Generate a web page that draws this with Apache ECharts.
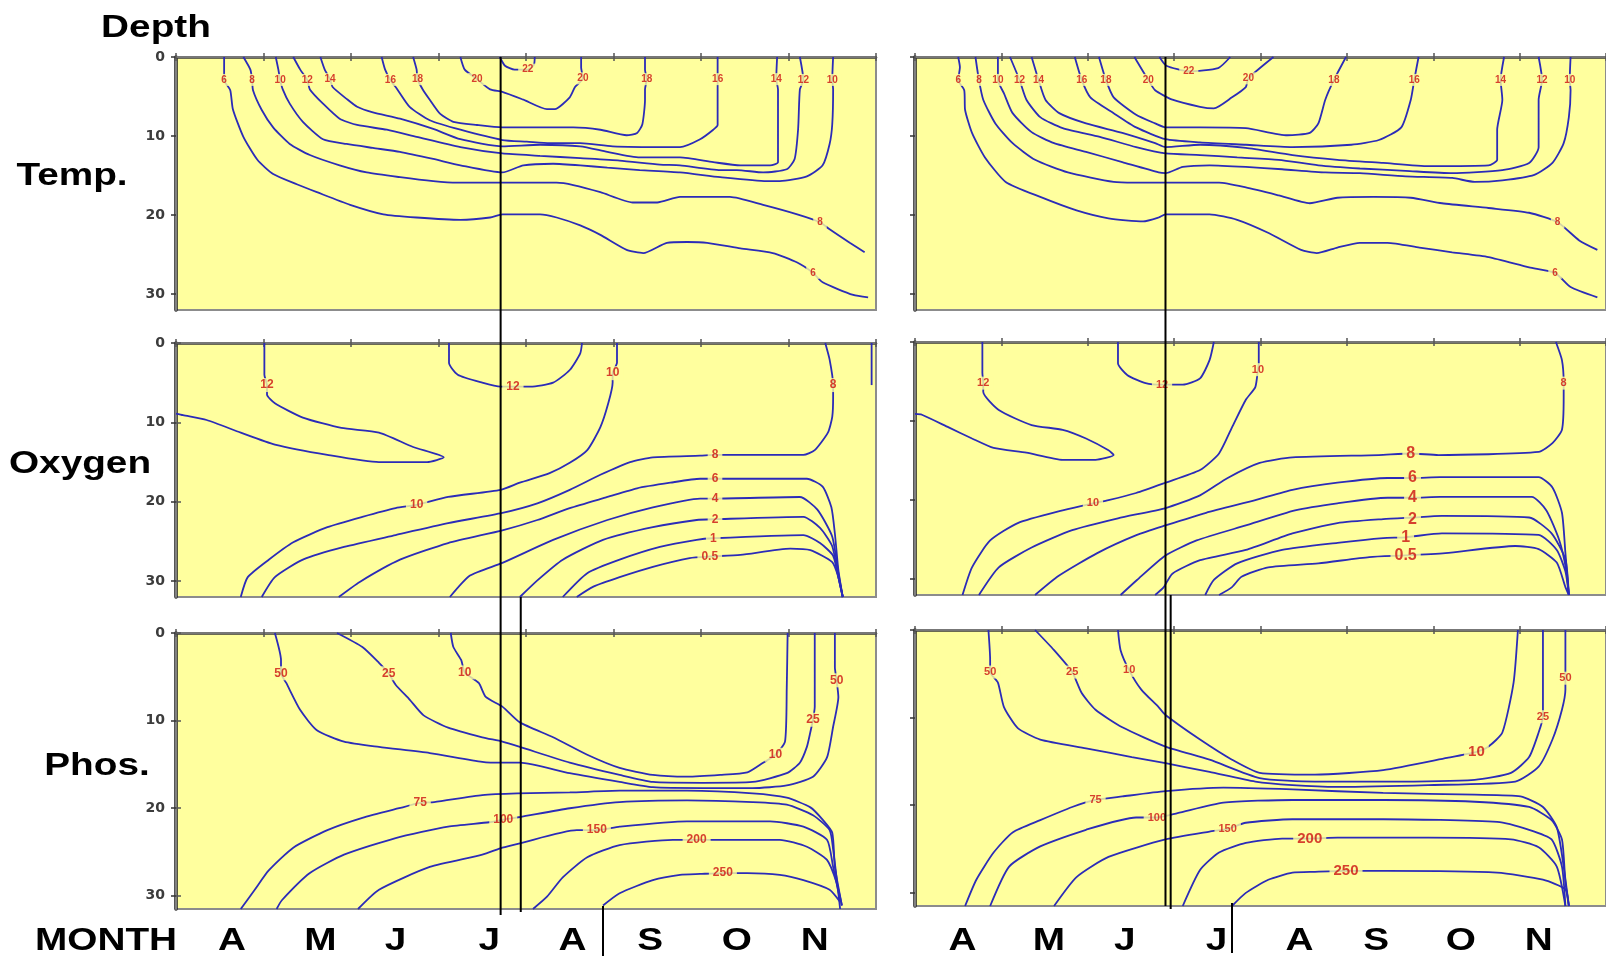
<!DOCTYPE html>
<html>
<head>
<meta charset="utf-8">
<title>Depth sections: temperature, oxygen, phosphate</title>
<script src="https://cdn.jsdelivr.net/npm/echarts@6/dist/echarts.min.js"></script>
<style>
  html, body { margin: 0; padding: 0; background: #ffffff; }
  #chart { width: 1606px; height: 963px; }
</style>
</head>
<body>
<div id="chart"></div>
<script>
// Month axis: 0 = start of April, 8 = end of November. Depth in metres.
const monthsLeft = ['A', 'M', 'J', 'J', 'A', 'S', 'O', 'N'];
const monthsRight = ['A', 'M', 'J', 'J', 'A', 'S', 'O', 'N'];
const monthAtLeft = [0.64, 1.65, 2.51, 3.58, 4.53, 5.42, 6.41, 7.30];
const monthAtRight = [0.55, 1.55, 2.43, 3.49, 4.45, 5.34, 6.32, 7.22];
const depthTicks = [0, 10, 20, 30];

// Sampling dates marked as vertical rules (month units)
const rulesLeft = [3.71, 3.94, 4.88];
const rulesRight = [2.90, 2.96, 3.67];

// Temperature isotherms (deg C), first season
const tempLeft = [
  {level: 6, pts: [[0.55,0],[0.55,1.3],[0.55,2.9],[0.62,4.2],[0.65,6.6],[0.77,10.1],[0.93,13.0],[1.11,14.8],[1.38,16.1],[1.61,17.1],[1.99,18.7],[2.37,19.9],[2.75,20.3],[3.25,20.6],[3.59,20.3],[3.73,19.9],[4.16,19.9],[4.35,20.3],[4.62,21.3],[4.85,22.5],[5.15,24.4],[5.34,24.8],[5.61,23.5],[5.84,23.4],[6.07,23.5],[6.45,24.2],[6.82,24.8],[7.10,26.0],[7.28,27.3],[7.39,28.5],[7.74,30.1],[7.91,30.4]]},
  {level: 8, pts: [[0.77,0],[0.85,1.6],[0.87,2.9],[0.88,4.2],[0.98,6.7],[1.11,8.9],[1.30,11.0],[1.53,12.4],[1.87,13.7],[2.18,14.6],[2.56,15.2],[2.94,15.7],[3.21,15.9],[3.73,15.9],[4.35,15.9],[4.54,16.2],[4.85,17.1],[5.22,18.4],[5.50,18.4],[5.76,17.7],[6.33,17.7],[6.71,18.7],[7.10,19.9],[7.36,20.9],[7.47,21.8],[7.70,23.5],[7.87,24.7]]},
  {level: 10, pts: [[1.14,0],[1.17,1.6],[1.19,2.9],[1.22,4.1],[1.30,5.9],[1.45,8.2],[1.68,10.4],[1.95,11.0],[2.25,11.5],[2.56,12.0],[2.94,12.9],[3.25,13.7],[3.73,14.6],[3.97,13.7],[4.31,13.5],[4.62,13.7],[4.93,14.0],[5.30,14.3],[5.76,14.6],[6.22,15.2],[6.75,15.7],[6.90,15.7],[7.21,15.1],[7.39,13.7],[7.47,11.0],[7.50,8.5],[7.51,4.1],[7.50,2.9],[7.51,0]]},
  {level: 12, pts: [[1.34,0],[1.42,1.6],[1.50,2.9],[1.53,4.1],[1.68,5.9],[1.87,7.8],[2.07,8.6],[2.41,9.2],[2.75,10.1],[3.25,11.4],[3.73,12.2],[4.16,12.5],[4.62,12.8],[5.07,13.1],[5.53,13.6],[5.76,13.7],[6.22,14.3],[6.41,14.3],[6.71,14.6],[6.98,14.2],[7.07,12.9],[7.11,9.1],[7.13,4.1],[7.17,2.9],[7.13,0]]},
  {level: 14, pts: [[1.65,0],[1.70,1.6],[1.76,2.8],[1.79,3.8],[1.95,5.3],[2.07,6.3],[2.25,7.0],[2.56,7.8],[2.94,9.1],[3.25,10.4],[3.73,11.3],[4.16,11.1],[4.62,11.3],[4.93,12.0],[5.30,12.7],[5.76,12.7],[6.14,13.3],[6.45,13.7],[6.79,13.7],[6.88,13.3],[6.88,4.1],[6.86,2.8],[6.87,0]]},
  {level: 16, pts: [[2.35,0],[2.39,1.6],[2.45,2.9],[2.53,4.1],[2.67,6.3],[2.90,8.0],[3.25,9.2],[3.73,10.5],[4.01,10.7],[4.27,10.9],[4.62,10.9],[4.99,11.3],[5.61,11.4],[5.76,11.4],[5.99,10.4],[6.14,9.2],[6.19,8.6],[6.19,4.1],[6.19,2.8],[6.19,0]]},
  {level: 18, pts: [[2.71,0],[2.75,1.6],[2.76,2.8],[2.82,4.1],[2.90,5.4],[3.02,7.2],[3.17,8.2],[3.44,8.6],[3.73,8.9],[4.54,8.9],[4.85,9.2],[5.15,9.9],[5.27,9.6],[5.33,8.5],[5.36,5.4],[5.36,4.1],[5.38,2.8],[5.36,1.6],[5.36,0]]},
  {level: 20, pts: [[3.25,0],[3.30,1.6],[3.44,2.8],[3.59,4.1],[3.73,4.4],[3.97,5.4],[4.24,6.6],[4.33,6.6],[4.50,5.1],[4.56,3.8],[4.65,2.7],[4.63,1.3],[4.63,0]]},
  {level: 22, pts: [[3.70,0],[3.76,1.1],[3.87,1.6],[4.02,1.6],[4.09,1.0],[4.10,0]]}
];
const tempLeftLabels = [[0.55,2.9,'6'],[0.87,2.9,'8'],[1.19,2.9,'10'],[1.50,2.9,'12'],[1.76,2.8,'14'],[2.45,2.9,'16'],[2.76,2.8,'18'],[3.44,2.8,'20'],[4.02,1.6,'22'],[4.65,2.7,'20'],[5.38,2.8,'18'],[6.19,2.8,'16'],[6.86,2.8,'14'],[7.17,2.9,'12'],[7.50,2.9,'10'],[7.36,20.9,'8'],[7.28,27.3,'6']];

// Temperature isotherms (deg C), second season
const tempRight = [
  {level: 6, pts: [[0.50,0],[0.52,1.3],[0.50,2.9],[0.57,4.2],[0.58,6.7],[0.66,9.6],[0.81,12.7],[1.05,15.8],[1.45,17.7],[1.87,19.4],[2.24,20.4],[2.64,20.8],[2.82,20.3],[2.90,19.9],[3.41,19.9],[3.73,20.6],[4.10,22.3],[4.47,24.4],[4.65,24.8],[4.89,24.1],[5.15,23.5],[5.47,23.5],[5.84,24.1],[6.22,24.7],[6.64,25.3],[7.11,26.6],[7.41,27.3],[7.59,29.1],[7.90,30.4]]},
  {level: 8, pts: [[0.70,0],[0.74,2.9],[0.79,5.4],[0.93,8.4],[1.13,10.9],[1.39,13.0],[1.77,14.6],[2.30,15.8],[2.54,15.9],[3.04,15.9],[3.52,15.9],[3.83,16.5],[4.21,17.5],[4.57,18.5],[4.89,17.8],[5.31,17.7],[5.74,17.8],[6.10,18.5],[6.64,19.1],[7.11,19.7],[7.44,20.9],[7.69,23.2],[7.90,24.4]]},
  {level: 10, pts: [[0.96,0],[0.96,2.9],[1.03,4.6],[1.13,7.1],[1.35,9.5],[1.61,10.9],[1.98,12.0],[2.40,13.3],[2.82,14.6],[2.90,14.7],[3.10,13.9],[3.41,13.7],[3.83,13.9],[4.25,14.2],[4.75,14.6],[5.15,14.7],[5.68,15.1],[6.22,15.3],[6.48,15.8],[6.80,15.6],[7.17,14.9],[7.38,13.4],[7.51,10.9],[7.57,7.6],[7.59,4.2],[7.58,2.9],[7.59,0]]},
  {level: 12, pts: [[1.10,0],[1.21,2.9],[1.29,5.4],[1.45,7.6],[1.71,9.0],[2.14,10.1],[2.56,11.4],[2.90,12.2],[3.30,12.4],[3.73,12.7],[4.21,13.0],[4.67,13.7],[5.15,14.1],[5.68,14.4],[6.22,14.7],[6.80,14.3],[7.11,13.4],[7.22,11.4],[7.22,5.4],[7.26,2.9],[7.22,0]]},
  {level: 14, pts: [[1.35,0],[1.43,2.9],[1.51,5.4],[1.67,7.1],[1.98,8.4],[2.40,9.6],[2.78,10.9],[2.90,11.4],[3.30,11.1],[3.83,11.5],[4.37,12.4],[4.89,13.0],[5.42,13.4],[5.95,13.8],[6.64,13.7],[6.74,13.0],[6.74,9.2],[6.80,5.4],[6.78,2.9],[6.82,0]]},
  {level: 16, pts: [[1.85,0],[1.93,2.9],[2.03,5.1],[2.30,7.1],[2.56,8.9],[2.90,10.4],[3.30,10.8],[3.83,11.1],[4.37,11.4],[5.05,11.1],[5.37,10.5],[5.63,8.9],[5.74,5.4],[5.78,2.9],[5.83,0]]},
  {level: 18, pts: [[2.13,0],[2.21,2.9],[2.30,5.1],[2.56,7.3],[2.78,8.4],[2.90,8.9],[3.30,8.9],[3.83,9.0],[4.31,9.9],[4.57,9.6],[4.67,8.4],[4.75,5.4],[4.85,2.9],[4.99,0]]},
  {level: 20, pts: [[2.54,0],[2.70,2.9],[2.78,4.2],[2.98,5.4],[3.30,6.3],[3.46,6.5],[3.67,5.1],[3.83,3.8],[3.86,2.7],[4.15,0]]},
  {level: 22, pts: [[2.83,0],[2.91,1.1],[3.17,1.8],[3.51,1.4],[3.65,0]]}
];
const tempRightLabels = [[0.50,2.9,'6'],[0.74,2.9,'8'],[0.96,2.9,'10'],[1.21,2.9,'12'],[1.43,2.9,'14'],[1.93,2.9,'16'],[2.21,2.9,'18'],[2.70,2.9,'20'],[3.17,1.8,'22'],[3.86,2.7,'20'],[4.85,2.9,'18'],[5.78,2.9,'16'],[6.78,2.9,'14'],[7.26,2.9,'12'],[7.58,2.9,'10'],[7.44,20.9,'8'],[7.41,27.3,'6']];

// Dissolved oxygen isopleths (mg/L), first season
const oxyLeft = [
  {level: 12, pts: [[1.01,0],[1.01,4.0],[1.04,5.3],[1.04,6.5],[1.13,7.6],[1.45,9.4],[1.89,10.7],[2.32,11.3],[2.71,13.1],[3.06,14.4],[2.87,15.0],[2.32,15.0],[1.73,14.1],[1.13,12.8],[0.74,11.3],[0.35,9.7],[0.08,9.1],[0,8.9]]},
  {level: 12, pts: [[3.12,0],[3.12,2.5],[3.22,4.0],[3.50,5.0],[3.71,5.5],[3.85,5.5],[4.05,5.5],[4.31,5.0],[4.50,3.4],[4.62,1.3],[4.64,0]]},
  {level: 10, pts: [[0.74,32],[0.82,29.5],[1.06,27.3],[1.34,25.1],[1.73,23.2],[2.13,21.9],[2.51,20.8],[2.75,20.4],[3.11,19.4],[3.71,18.5],[3.93,17.6],[4.27,16.4],[4.50,15.1],[4.70,13.5],[4.85,10.6],[4.94,7.6],[4.99,5.0],[4.99,3.8],[5.04,2.5],[5.04,0]]},
  {level: 8, pts: [[0.98,32],[1.13,29.5],[1.45,27.3],[1.92,25.7],[2.51,24.2],[3.11,22.7],[3.73,21.4],[4.13,20.2],[4.50,18.5],[4.85,16.6],[5.19,15.0],[5.45,14.4],[5.99,14.2],[6.16,14.1],[7.17,14.1],[7.30,13.5],[7.45,11.3],[7.50,9.3],[7.51,6.8],[7.51,5.3],[7.47,2.1],[7.42,0]]},
  {level: 8, pts: [[7.95,0],[7.95,5.3]]},
  {level: 6, pts: [[1.86,32],[2.10,30.1],[2.56,27.3],[3.11,25.2],[3.73,23.6],[4.13,22.3],[4.50,20.8],[4.93,19.4],[5.27,18.3],[5.65,17.6],[5.99,17.1],[6.16,17.1],[7.21,17.1],[7.39,18.1],[7.49,20.7],[7.53,24.0],[7.57,28.6],[7.62,32]]},
  {level: 4, pts: [[3.13,32],[3.36,29.3],[3.73,27.7],[4.31,24.8],[4.93,22.3],[5.45,20.7],[5.99,19.6],[6.16,19.6],[7.13,19.4],[7.33,21.0],[7.50,24.4],[7.57,29.0],[7.62,32]]},
  {level: 2, pts: [[3.93,32],[4.13,29.9],[4.42,27.3],[4.88,24.8],[5.45,23.2],[5.95,22.3],[6.16,22.2],[7.17,21.9],[7.36,23.3],[7.50,25.6],[7.57,29.5],[7.62,32]]},
  {level: 1, pts: [[4.42,32],[4.70,29.0],[5.07,27.3],[5.53,25.7],[5.95,24.8],[6.14,24.6],[7.17,24.2],[7.36,25.2],[7.51,26.8],[7.58,30.0],[7.62,32]]},
  {level: 0.5, pts: [[4.58,32],[4.77,30.7],[5.07,29.5],[5.45,28.2],[5.87,27.1],[6.10,26.9],[6.45,26.7],[7.02,25.9],[7.25,26.1],[7.50,27.6],[7.57,29.5],[7.62,32]]}
];
const oxyLeftLabels = [[1.04,5.3,'12'],[3.85,5.5,'12'],[4.99,3.8,'10'],[7.51,5.3,'8'],[2.75,20.4,'10'],[6.16,14.1,'8'],[6.16,17.1,'6'],[6.16,19.6,'4'],[6.16,22.2,'2'],[6.14,24.6,'1'],[6.10,26.9,'0.5']];

// Dissolved oxygen isopleths (mg/L), second season
const oxyRight = [
  {level: 12, pts: [[0.78,0],[0.78,3.9],[0.79,5.2],[0.79,6.3],[0.97,8.6],[1.35,10.5],[1.71,11.1],[1.98,12.2],[2.24,13.7],[2.30,14.3],[2.09,14.9],[1.71,14.9],[1.29,14.0],[0.91,13.4],[0.66,12.2],[0.39,10.8],[0.08,9.2],[0,9.1]]},
  {level: 12, pts: [[2.35,0],[2.35,2.7],[2.46,4.2],[2.67,5.2],[2.86,5.4],[3.10,5.4],[3.30,4.6],[3.41,2.3],[3.46,0]]},
  {level: 10, pts: [[0.55,32],[0.66,28.5],[0.87,25.1],[1.19,22.9],[1.71,21.3],[2.06,20.4],[2.24,20.0],[2.56,19.1],[2.90,17.8],[3.30,16.2],[3.52,14.1],[3.67,10.8],[3.83,7.3],[3.94,5.7],[3.97,3.5],[3.98,2.7],[3.98,0]]},
  {level: 8, pts: [[0.74,32],[0.97,28.5],[1.35,26.0],[1.82,23.8],[2.35,22.3],[2.90,21.0],[3.30,19.4],[3.62,17.2],[3.99,15.3],[4.37,14.6],[5.37,14.3],[5.74,14.1],[6.06,14.3],[7.22,13.9],[7.38,12.8],[7.49,11.1],[7.51,7.0],[7.51,5.2],[7.49,2.3],[7.42,0]]},
  {level: 6, pts: [[1.39,32],[1.66,29.6],[2.11,26.7],[2.57,24.4],[2.90,23.2],[3.37,21.6],[3.94,20.0],[4.37,18.7],[4.89,17.8],[5.47,17.2],[5.76,17.2],[6.08,17.1],[7.22,17.1],[7.38,18.4],[7.49,21.6],[7.53,26.7],[7.57,32]]},
  {level: 4, pts: [[2.38,32],[2.57,30.1],[2.90,27.0],[3.26,25.1],[3.83,23.2],[4.40,21.3],[4.89,20.4],[5.47,19.7],[5.76,19.7],[6.08,19.6],[7.14,19.6],[7.31,21.3],[7.46,25.1],[7.54,28.9],[7.57,32]]},
  {level: 2, pts: [[2.78,32],[2.88,31.0],[2.98,29.3],[3.30,27.6],[3.83,26.3],[4.37,24.2],[4.89,22.9],[5.42,22.4],[5.76,22.2],[6.10,22.0],[7.11,22.2],[7.37,24.2],[7.53,27.5],[7.57,32]]},
  {level: 1, pts: [[3.36,32],[3.46,30.1],[3.73,28.0],[4.25,26.3],[4.89,25.4],[5.42,24.8],[5.68,24.7],[6.10,24.2],[7.22,24.4],[7.43,26.3],[7.53,29.0],[7.57,32]]},
  {level: 0.5, pts: [[3.52,32],[3.67,31.0],[3.78,29.7],[4.09,28.5],[4.67,28.0],[5.26,27.2],[5.68,27.0],[6.14,26.7],[6.95,25.8],[7.22,26.2],[7.43,27.9],[7.53,31.0],[7.57,32]]}
];
const oxyRightLabels = [[0.79,5.2,'12'],[2.86,5.4,'12'],[3.97,3.5,'10'],[7.51,5.2,'8'],[2.06,20.4,'10']];
const oxyRightBig = [[5.74,14.1,'8'],[5.76,17.2,'6'],[5.76,19.7,'4'],[5.76,22.4,'2'],[5.68,24.7,'1'],[5.68,27.0,'0.5']];

// Phosphate isopleths (ug/L), first season
const phosLeft = [
  {level: 50, pts: [[1.13,0],[1.20,3.1],[1.20,4.6],[1.26,5.7],[1.42,8.8],[1.61,11.1],[1.92,12.4],[2.32,13.0],[2.90,13.7],[3.50,14.7],[3.73,14.8],[3.93,14.8],[4.50,16.0],[5.07,17.0],[5.45,17.6],[6.02,17.7],[6.59,17.7],[6.98,17.4],[7.28,16.4],[7.44,14.2],[7.51,10.7],[7.57,7.3],[7.55,5.4],[7.53,3.9],[7.53,0]]},
  {level: 25, pts: [[1.84,0],[2.13,1.6],[2.32,3.4],[2.43,4.6],[2.51,5.9],[2.67,7.6],[2.83,9.4],[3.11,10.8],[3.50,11.9],[3.73,12.4],[3.93,13.0],[4.50,14.8],[5.07,16.2],[5.45,17.0],[6.02,17.1],[6.59,17.0],[6.98,16.0],[7.13,14.8],[7.21,13.0],[7.25,11.3],[7.28,9.9],[7.30,8.4],[7.30,0]]},
  {level: 10, pts: [[3.14,0],[3.17,1.6],[3.26,3.1],[3.30,4.5],[3.46,5.7],[3.54,7.3],[3.73,8.4],[3.93,10.2],[4.31,11.9],[4.70,13.9],[5.07,15.4],[5.45,16.2],[5.84,16.4],[6.22,16.2],[6.53,15.9],[6.71,14.8],[6.85,13.9],[6.96,12.4],[6.98,6.3],[6.99,0]]},
  {level: 75, pts: [[0.74,31.5],[0.90,29.3],[1.06,27.1],[1.34,24.5],[1.73,22.5],[2.13,21.1],[2.55,20.0],[2.79,19.4],[2.95,19.3],[3.50,18.5],[3.90,18.3],[4.50,18.2],[5.07,18.0],[5.84,18.0],[6.59,18.3],[6.98,18.8],[7.25,19.9],[7.39,21.3],[7.50,22.8],[7.53,26.7],[7.61,31.1]]},
  {level: 100, pts: [[1.15,31.5],[1.21,30.5],[1.53,27.4],[1.92,25.3],[2.51,23.4],[3.11,22.1],[3.58,21.6],[3.74,21.3],[3.93,21.0],[4.50,20.0],[5.07,19.3],[5.84,19.1],[6.59,19.3],[6.98,19.6],[7.28,20.8],[7.47,22.5],[7.51,24.7],[7.57,29.7],[7.59,31.5]]},
  {level: 150, pts: [[2.08,31.5],[2.32,29.3],[2.90,26.7],[3.50,25.3],[3.73,24.5],[3.93,24.0],[4.58,22.5],[4.81,22.5],[5.07,22.1],[5.84,21.5],[6.79,21.5],[7.17,22.1],[7.44,23.6],[7.51,26.7],[7.59,30.5]]},
  {level: 200, pts: [[4.08,31.5],[4.24,30.1],[4.42,27.9],[4.70,25.6],[5.07,24.2],[5.68,23.6],[5.95,23.6],[6.18,23.6],[6.90,23.6],[7.21,24.4],[7.44,25.9],[7.55,28.5],[7.61,31.1]]},
  {level: 250, pts: [[4.88,31.1],[5.07,29.7],[5.45,28.2],[5.76,27.6],[5.99,27.5],[6.25,27.4],[6.53,27.4],[6.90,27.6],[7.17,28.2],[7.47,29.3],[7.59,30.7]]}
];
const phosLeftLabels = [[1.20,4.6,'50'],[2.43,4.6,'25'],[3.30,4.5,'10'],[2.79,19.4,'75'],[3.74,21.3,'100'],[4.81,22.5,'150'],[5.95,23.6,'200'],[6.25,27.4,'250'],[6.85,13.9,'10'],[7.28,9.9,'25'],[7.55,5.4,'50']];

// Phosphate isopleths (ug/L), second season
const phosRight = [
  {level: 50, pts: [[0.85,0],[0.87,3.4],[0.87,4.8],[0.96,6.0],[1.03,8.8],[1.19,11.2],[1.45,12.5],[1.98,13.5],[2.51,14.5],[2.90,15.2],[3.41,16.2],[3.94,17.3],[4.37,17.7],[4.89,17.9],[5.94,17.7],[6.95,17.3],[7.22,15.6],[7.38,12.5],[7.49,9.1],[7.53,6.8],[7.53,5.5],[7.53,0]]},
  {level: 25, pts: [[1.39,0],[1.61,2.3],[1.82,4.8],[1.93,7.2],[2.09,9.1],[2.40,11.1],[2.90,13.3],[3.41,14.8],[3.99,16.9],[4.63,17.3],[5.42,17.3],[6.48,17.1],[6.90,16.3],[7.11,14.5],[7.22,11.7],[7.27,9.9],[7.27,0]]},
  {level: 10, pts: [[2.35,0],[2.38,2.3],[2.48,4.6],[2.62,6.8],[2.82,8.8],[2.90,9.7],[3.30,12.5],[3.67,14.8],[3.99,16.3],[4.63,16.5],[5.42,16.0],[6.16,14.6],[6.50,13.9],[6.64,13.3],[6.80,11.7],[6.93,6.0],[6.98,0]]},
  {level: 75, pts: [[0.58,31.5],[0.71,28.5],[0.91,25.4],[1.13,23.1],[1.45,21.7],[1.82,20.2],[2.09,19.4],[2.40,19.0],[2.90,18.4],[3.57,18.0],[4.37,18.2],[5.42,18.6],[6.48,18.8],[7.01,19.0],[7.27,20.2],[7.43,22.5],[7.51,27.0],[7.57,31.5]]},
  {level: 100, pts: [[0.87,31.5],[1.09,27.0],[1.45,24.7],[1.98,22.8],[2.56,21.4],[2.80,21.4],[3.04,20.9],[3.57,19.7],[4.37,19.4],[5.42,19.4],[6.48,19.6],[7.11,20.2],[7.37,21.7],[7.49,23.9],[7.53,28.8],[7.57,31.5]]},
  {level: 150, pts: [[1.61,31.5],[1.87,28.2],[2.24,25.9],[2.90,23.9],[3.41,23.0],[3.62,22.7],[3.83,22.0],[4.37,21.6],[5.42,21.6],[6.74,21.9],[7.11,22.8],[7.37,23.9],[7.49,27.0],[7.53,31.5]]},
  {level: 200, pts: [[3.10,31.5],[3.30,27.4],[3.52,25.4],[3.83,24.3],[4.25,23.8],[4.57,23.8],[4.89,23.7],[5.94,23.7],[6.90,23.9],[7.22,24.8],[7.43,27.0],[7.53,31.5]]},
  {level: 250, pts: [[3.67,31.5],[3.83,30.0],[4.09,28.5],[4.37,27.7],[4.63,27.6],[4.99,27.5],[5.47,27.5],[6.74,27.7],[7.27,28.5],[7.53,29.6],[7.57,31.5]]}
];
const phosRightLabels = [[0.87,4.8,'50'],[1.82,4.8,'25'],[2.48,4.6,'10'],[2.09,19.4,'75'],[2.80,21.4,'100'],[3.62,22.7,'150'],[7.27,9.9,'25'],[7.53,5.5,'50']];
const phosRightBig = [[4.57,23.8,'200'],[4.99,27.5,'250'],[6.50,13.9,'10']];

// ---- styling ----
const LINE_COLOR = '#2b2bb8';
const LABEL_COLOR = '#cc1010';
const PANEL_BG = '#ffff9e';
const FONT = '"Liberation Sans", Arial, sans-serif';

const panels = [
  {lines: tempLeft,  labels: tempLeftLabels,  big: [],           left: 176, top: 57,  height: 253, max: 32,   size: 10, bigSize: 10, yLabels: true,  rightTicks: false},
  {lines: oxyLeft,   labels: oxyLeftLabels,   big: [],           left: 176, top: 343, height: 254, max: 32,   size: 12, bigSize: 12, yLabels: true,  rightTicks: true},
  {lines: phosLeft,  labels: phosLeftLabels,  big: [],           left: 176, top: 633, height: 276, max: 31.5, size: 12, bigSize: 12, yLabels: true,  rightTicks: true},
  {lines: tempRight, labels: tempRightLabels, big: [],           left: 915, top: 57,  height: 253, max: 32,   size: 10, bigSize: 10, yLabels: false, rightTicks: false},
  {lines: oxyRight,  labels: oxyRightLabels,  big: oxyRightBig,  left: 915, top: 342, height: 253, max: 32,   size: 11, bigSize: 16, yLabels: false, rightTicks: false},
  {lines: phosRight, labels: phosRightLabels, big: phosRightBig, left: 915, top: 630, height: 276, max: 31.5, size: 11, bigSize: 15, yLabels: false, rightTicks: false}
];

const grids = [], xAxes = [], yAxes = [], series = [];

function labelSeries(i, items, size) {
  return {
    type: 'scatter', xAxisIndex: 2 * i, yAxisIndex: 2 * i, silent: true, z: 6,
    symbol: 'rect', symbolSize: 1, itemStyle: {color: 'rgba(0,0,0,0)'},
    data: items.map(l => ({value: [l[0], l[1]], name: l[2]})),
    label: {
      show: true, position: 'inside', formatter: '{b}',
      color: LABEL_COLOR, fontSize: size, fontWeight: 'bold', fontFamily: FONT,
      backgroundColor: PANEL_BG, padding: [1, 4]
    }
  };
}

panels.forEach((p, i) => {
  grids.push({
    left: p.left, top: p.top, width: 700, height: p.height,
    show: true, backgroundColor: PANEL_BG, borderColor: '#8c8c8c', borderWidth: 2
  });
  const xBase = {
    type: 'value', gridIndex: i, min: 0, max: 8, interval: 1,
    axisLabel: {show: false}, splitLine: {show: false},
    axisTick: {show: true, inside: false, length: 4, lineStyle: {color: '#555', width: 1.5}}
  };
  xAxes.push(Object.assign({}, xBase, {position: 'bottom', axisLine: {show: true, lineStyle: {color: '#3a3a3a', width: 2.5}}}));
  xAxes.push(Object.assign({}, xBase, {position: 'top', axisLine: {show: true, lineStyle: {color: '#777', width: 2}}}));
  yAxes.push({
    type: 'value', gridIndex: i, inverse: true, min: 0, max: p.max, interval: 10, position: 'left',
    splitLine: {show: false},
    axisLine: {show: true, lineStyle: {color: '#1c1c1c', width: 3.5}},
    axisTick: {show: true, length: 5, customValues: depthTicks, lineStyle: {color: '#333', width: 1.5}},
    axisLabel: {show: p.yLabels, customValues: depthTicks, margin: 11, fontSize: 14, fontWeight: 'bold', color: '#3c3c3c', fontFamily: '"DejaVu Sans", sans-serif'}
  });
  yAxes.push({
    type: 'value', gridIndex: i, inverse: true, min: 0, max: p.max, interval: 10, position: 'right',
    splitLine: {show: false},
    axisLine: {show: true, lineStyle: {color: '#808080', width: 2}},
    axisTick: {show: p.rightTicks, length: 5, customValues: depthTicks, lineStyle: {color: '#555', width: 1.5}},
    axisLabel: {show: false}
  });
  p.lines.forEach(c => {
    series.push({
      type: 'line', name: String(c.level), xAxisIndex: 2 * i, yAxisIndex: 2 * i,
      data: c.pts, showSymbol: false, smooth: 0.2, silent: true, z: 3,
      lineStyle: {color: LINE_COLOR, width: 1.8}
    });
  });
  series.push(labelSeries(i, p.labels, p.size));
  if (p.big.length) series.push(labelSeries(i, p.big, p.bigSize));
});

const chart = echarts.init(document.getElementById('chart'));
chart.setOption({
  animation: false,
  textStyle: {fontFamily: FONT},
  grid: grids, xAxis: xAxes, yAxis: yAxes, series: series
});

// ---- overlays: section rules, month initials, row titles ----
function toPx(i, x, y) {
  return chart.convertToPixel({xAxisIndex: 2 * i, yAxisIndex: 2 * i}, [x, y]);
}
const overlay = [];
function rule(x, y1, y2) {
  overlay.push({type: 'line', z: 20, shape: {x1: x, y1: y1, x2: x, y2: y2}, style: {stroke: '#000', lineWidth: 2}});
}
function bigText(text, x, y) {
  overlay.push({
    type: 'text', z: 20, x: x, y: y, scaleX: 1.25,
    style: {text: text, font: 'bold 31px ' + FONT, fill: '#000', textAlign: 'center', textVerticalAlign: 'middle'}
  });
}

[[0, 1, 2, rulesLeft, 6], [3, 4, 5, rulesRight, 0]].forEach(([t, o, ph, rules, over]) => {
  const topY = toPx(t, 0, 0)[1];
  const oxyBottom = toPx(o, 0, panels[o].max)[1];
  const phBottom = toPx(ph, 0, panels[ph].max)[1];
  rule(toPx(ph, rules[0], 0)[0], topY, phBottom + over);
  rule(toPx(ph, rules[1], 0)[0], oxyBottom, phBottom + 3);
  rule(toPx(ph, rules[2], 0)[0], phBottom - 3, phBottom + 47);
});

const monthY = 941;
monthsLeft.forEach((m, k) => bigText(m, toPx(2, monthAtLeft[k], 0)[0], monthY));
monthsRight.forEach((m, k) => bigText(m, toPx(5, monthAtRight[k], 0)[0], monthY));
bigText('MONTH', 106, monthY);
bigText('Depth', 156, 28);
bigText('Temp.', 72, 176);
bigText('Oxygen', 80, 464);
bigText('Phos.', 97, 766);

chart.setOption({graphic: {elements: overlay}});
</script>
</body>
</html>
